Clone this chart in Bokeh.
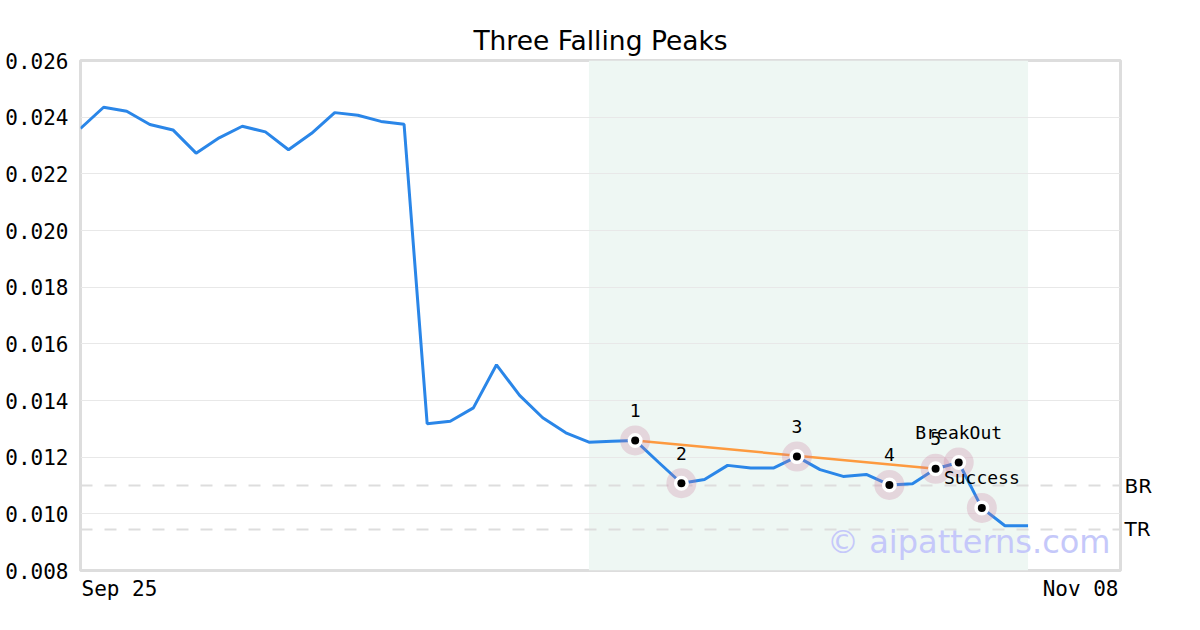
import numpy as np
import pandas as pd
from bokeh.plotting import figure
from bokeh.models import (Span, Label, BoxAnnotation, FixedTicker, LinearAxis,
                          NumeralTickFormatter, Range1d, ColumnDataSource,
                          CustomJSTickFormatter)
from bokeh.core.properties import value
from bokeh.embed import file_html
from bokeh.resources import INLINE

# ---------------- data ----------------
title_text = "Three Falling Peaks"
start_date = "2023-09-25"
range_start = "2023-09-25"
range_end = "2023-11-09"
x_tick_labels = ["Sep 25", "Nov 08"]
y_ticks = [0.008, 0.010, 0.012, 0.014, 0.016, 0.018, 0.020, 0.022, 0.024, 0.026]

prices = [0.02360, 0.02435, 0.02421, 0.02374, 0.02355, 0.02273, 0.02327, 0.02368,
          0.02348, 0.02285, 0.02343, 0.02416, 0.02407, 0.02385, 0.02375, 0.01318,
          0.01327, 0.01374, 0.01526, 0.01418, 0.01339, 0.01286, 0.01253, 0.01256,
          0.01259, 0.01183, 0.01108, 0.01121, 0.01171, 0.01162, 0.01162, 0.01202,
          0.01156, 0.01132, 0.01139, 0.01102, 0.01106, 0.01159, 0.01181, 0.01021,
          0.00958, 0.00958]

pattern_idx = [24, 26, 31, 35, 37]
pattern_labels = ["1", "2", "3", "4", "5"]
event_idx = [38, 39]
event_labels = ["BreakOut", "Success"]
trend_idx = [24, 37]
shade_idx = [22, 41]
level_values = [0.0110, 0.00945]
level_labels = ["BR", "TR"]
watermark = "\u00a9 aipatterns.com"

# ---------------- derived ----------------
dates = pd.date_range(start_date, periods=len(prices), freq="D")
x0 = pd.Timestamp(range_start)
x1 = pd.Timestamp(range_end)
x0_ms = int(x0.value // 10**6)
x1_ms = int(x1.value // 10**6)

MONO = "DejaVu Sans Mono"
SANS = "DejaVu Sans"
AXIS_FS = 21

p = figure(frame_width=1040, frame_height=510, x_axis_type="datetime",
           x_range=Range1d(x0, x1), y_range=Range1d(y_ticks[0], y_ticks[-1]),
           output_backend="svg", toolbar_location=None,
           min_border_left=80, min_border_right=80, min_border_top=60,
           min_border_bottom=60, background_fill_color="white",
           border_fill_color="white")

p.title.text = title_text
p.title.align = "center"
p.title.text_font = SANS
p.title.text_font_size = "26.5px"
p.title.text_font_style = "normal"
p.title.text_color = "black"

p.outline_line_color = "#dddddd"
p.outline_line_width = 3

p.xgrid.visible = False
p.ygrid.grid_line_color = "#e8e8e8"
p.ygrid.grid_line_width = 1

# y axis
ya = p.yaxis[0]
ya.ticker = FixedTicker(ticks=y_ticks)
ya.formatter = NumeralTickFormatter(format="0.000")
ya.axis_line_color = None
ya.major_tick_line_color = None
ya.minor_tick_line_color = None
ya.major_tick_out = 0
ya.major_tick_in = 0
ya.major_label_standoff = 12
ya.major_label_text_font = MONO
ya.major_label_text_font_size = f"{AXIS_FS}px"
ya.major_label_text_color = "black"

# x axis: only the two end labels, the first flush left, the last flush right
xa = p.xaxis[0]
label_half_w = 3 * 0.602 * AXIS_FS  # half width of a six-character mono label, px
px_per_ms = 1040 / (x1_ms - x0_ms)
left_shift = int(round((label_half_w + 1) / px_per_ms))
right_shift = int(round((label_half_w + 2) / px_per_ms))
xa.ticker = FixedTicker(ticks=[x0_ms + left_shift, x1_ms - right_shift])
xa.formatter = CustomJSTickFormatter(args=dict(labels=x_tick_labels),
                                     code="return labels[index]")
xa.axis_line_color = None
xa.major_tick_line_color = None
xa.minor_tick_line_color = None
xa.major_tick_out = 0
xa.major_tick_in = 0
xa.major_label_standoff = 6
xa.major_label_text_font = MONO
xa.major_label_text_font_size = f"{AXIS_FS}px"
xa.major_label_text_color = "black"

# right axis with the BR / TR level names
ra = LinearAxis(ticker=FixedTicker(ticks=level_values),
                major_label_overrides={v: t for v, t in zip(level_values, level_labels)})
ra.axis_line_color = None
ra.major_tick_line_color = None
ra.minor_tick_line_color = None
ra.major_tick_out = 0
ra.major_tick_in = 0
ra.major_label_standoff = 4
ra.major_label_text_font = SANS
ra.major_label_text_font_size = "20px"
ra.major_label_text_color = "black"
p.add_layout(ra, "right")

# shaded pattern region
p.add_layout(BoxAnnotation(left=dates[shade_idx[0]], right=dates[shade_idx[1]],
                           fill_color="#eef7f3", fill_alpha=1.0, line_color=None,
                           level="image"))

# BR / TR levels
for lv in level_values:
    p.add_layout(Span(location=lv, dimension="width", line_color="#dddddd",
                      line_width=2, line_dash="12 12", level="underlay"))

# watermark
p.add_layout(Label(x=x1, y=0.0090, text=watermark, x_offset=-10,
                   text_align="right", text_baseline="middle",
                   text_font=SANS, text_font_size="32px",
                   text_color="#c5c8fa"))

# main price line
p.line(dates, prices, line_color="#2a86e8", line_width=3)

# trend line through peaks
p.line([dates[i] for i in trend_idx], [prices[i] for i in trend_idx],
       line_color="#fd9a3f", line_width=2.5)

# markers
mk_idx = pattern_idx + event_idx
src = ColumnDataSource(dict(x=[dates[i] for i in mk_idx],
                            y=[prices[i] for i in mk_idx],
                            t=pattern_labels + event_labels))
p.scatter("x", "y", source=src, size=30, fill_color="#c8789a", fill_alpha=0.26,
          line_color=None)
p.scatter("x", "y", source=src, size=15, fill_color="white", line_color=None)
p.scatter("x", "y", source=src, size=8, fill_color="black", line_color=None)
p.text("x", "y", text="t", source=src, y_offset=-30, text_align="center",
       text_baseline="middle", text_font=value(MONO), text_font_size="18px",
       text_color="black")

open("out.html", "w").write(file_html(p, INLINE))
